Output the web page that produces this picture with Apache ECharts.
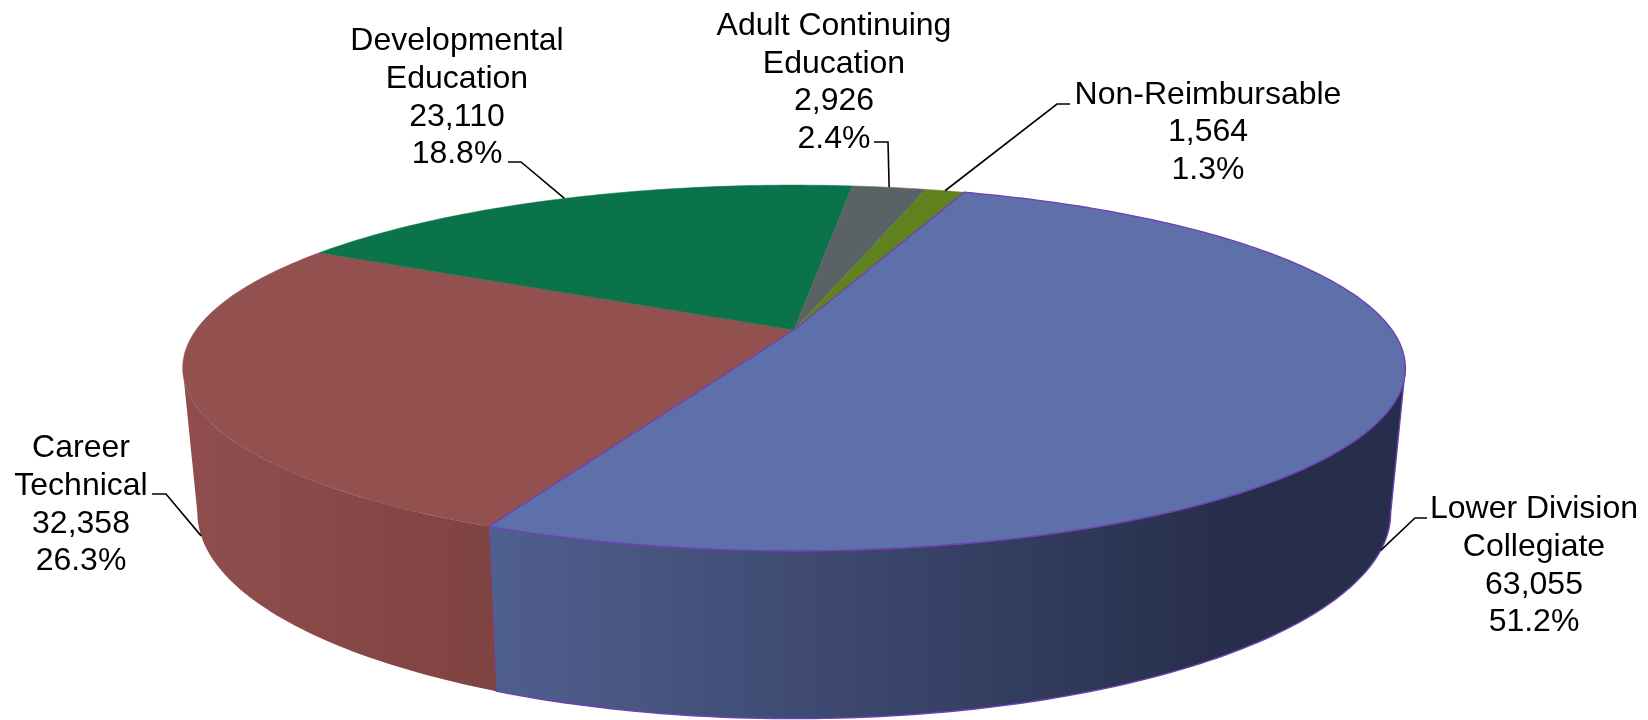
<!DOCTYPE html>
<html>
<head>
<meta charset="utf-8">
<title>Enrollment by program</title>
<style>
  html, body { margin: 0; padding: 0; background: #fff; }
  #chart { width: 1648px; height: 720px; }
</style>
</head>
<body>
<div id="chart"></div>
<script src="https://cdn.jsdelivr.net/npm/echarts@6/dist/echarts.min.js"></script>
<script>
const categories = ['Lower Division\nCollegiate', 'Career\nTechnical', 'Developmental\nEducation', 'Adult Continuing\nEducation', 'Non-Reimbursable']
const values = [63055, 32358, 23110, 2926, 1564]
const percentLabels = ['51.2%', '26.3%', '18.8%', '2.4%', '1.3%']

const topColors = ['#5e70a9', '#92514f', '#0b734a', '#5b6265', '#5f821e']
const wallStops = [
  [[0, '#50608f'], [0.82, '#272e4b'], [1, '#272e4b']],
  [[0, '#8f4e4d'], [1, '#7f4341']],
  null,
  null,
  null
]
const wallRanges = [[480, 1400], [190, 490], null, null, null]
const edgeColors = ['#6f42b4', null, null, null, null]

// label placement: text centre, then the elbow of the leader line
const labelCentres = [[1534, 566], [81, 505], [457, 98], [834, 82.5], [1208, 132.5]]
const leaderStarts = [[1427, 518], [152, 494], [508, 162], [874, 142], [1070, 104]]
const leaderElbows = [[1415, 518], [166, 494], [521, 162], [888, 142], [1057, 104]]
const leaderDepths = [1, 1, 0, 0, 0]

// perspective of the disc: near side is magnified, so the apex sits above the ellipse centre
const CX = 794
const CY = 330
const RX = 598
const RY = 175
const PERSPECTIVE = 0.2076
const BASE_SCALE_X = 0.976
const BASE_SCALE_Y = 1.126
const BASE_DROP = 140
const START_DEG = 19.9
const FRONT_FROM = 102
const FRONT_TO = 258

const total = values.reduce((sum, v) => sum + v, 0)
const sliceAngles = []
let cursor = START_DEG
values.forEach((v) => {
  const sweep = (v / total) * 360
  sliceAngles.push([cursor, cursor + sweep])
  cursor += sweep
})

// depth 0 = top face, depth 1 = base of the wall
function project(deg, depth) {
  const a = (deg * Math.PI) / 180
  const u = Math.sin(a)
  const v = -Math.cos(a)
  const w = 1 - PERSPECTIVE * v
  const x = (RX * u) / w
  const y = (RY * v) / w
  const scaleX = 1 + (BASE_SCALE_X - 1) * depth
  const scaleY = 1 + (BASE_SCALE_Y - 1) * depth
  return [CX + x * scaleX, CY + y * scaleY + BASE_DROP * depth]
}

function arcPoints(from, to, depth) {
  const steps = Math.max(2, Math.ceil(Math.abs(to - from)))
  const points = []
  for (let i = 0; i <= steps; i++) {
    points.push(project(from + ((to - from) * i) / steps, depth))
  }
  return points
}

function renderWall(params) {
  const i = params.dataIndex
  if (!wallStops[i]) {
    return { type: 'group', children: [] }
  }
  const from = Math.max(sliceAngles[i][0], FRONT_FROM)
  const to = Math.min(sliceAngles[i][1], FRONT_TO)
  const points = arcPoints(from, to, 0).concat(arcPoints(from, to, 1).reverse())
  return {
    type: 'polygon',
    shape: { points },
    style: {
      fill: new echarts.graphic.LinearGradient(
        wallRanges[i][0], 0, wallRanges[i][1], 0,
        wallStops[i].map(([offset, color]) => ({ offset, color })),
        true
      ),
      stroke: edgeColors[i] || 'none',
      lineWidth: 1.4
    }
  }
}

function renderTop(params) {
  const i = params.dataIndex
  const points = [[CX, CY]].concat(arcPoints(sliceAngles[i][0], sliceAngles[i][1], 0))
  return {
    type: 'polygon',
    z2: edgeColors[i] ? 10 : 1,
    shape: { points },
    style: {
      fill: topColors[i],
      stroke: edgeColors[i] || topColors[i],
      lineWidth: edgeColors[i] ? 1.4 : 0.5
    }
  }
}

function renderLabel(params, api) {
  const i = params.dataIndex
  const mid = (sliceAngles[i][0] + sliceAngles[i][1]) / 2
  const valueText = api.value(0).toLocaleString('en-US')
  return {
    type: 'group',
    children: [
      {
        type: 'polyline',
        shape: { points: [leaderStarts[i], leaderElbows[i], project(mid, leaderDepths[i])] },
        style: { stroke: '#000', lineWidth: 1.6, fill: 'none' }
      },
      {
        type: 'text',
        style: {
          x: labelCentres[i][0],
          y: labelCentres[i][1],
          text: [categories[i], valueText, percentLabels[i]].join('\n'),
          fontFamily: '"Liberation Sans", Arial, sans-serif',
          fontSize: 32,
          lineHeight: 37.6,
          fill: '#000',
          align: 'center',
          verticalAlign: 'middle'
        }
      }
    ]
  }
}

const chart = echarts.init(document.getElementById('chart'))
const seriesData = values.map((v) => [v])
chart.setOption({
  animation: false,
  backgroundColor: '#fff',
  tooltip: { show: false },
  series: [
    { type: 'custom', coordinateSystem: 'none', z: 1, silent: true, data: seriesData, renderItem: renderWall },
    { type: 'custom', coordinateSystem: 'none', z: 2, silent: true, data: seriesData, renderItem: renderTop },
    { type: 'custom', coordinateSystem: 'none', z: 3, silent: true, data: seriesData, renderItem: renderLabel }
  ]
})
</script>
</body>
</html>
